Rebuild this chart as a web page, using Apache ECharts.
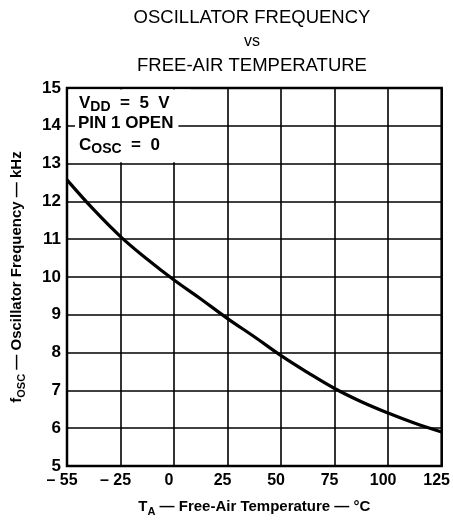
<!DOCTYPE html>
<html>
<head>
<meta charset="utf-8">
<script src="https://cdn.jsdelivr.net/npm/echarts@6/dist/echarts.min.js"></script>
<style>
  html, body { margin: 0; padding: 0; background: #fff; }
  #chart { width: 453px; height: 524px; }
</style>
</head>
<body>
<div id="chart"></div>
<script>
  // tick labels along the temperature axis (evenly spaced on the sheet)
  const tempTicks = [-55, -25, 0, 25, 50, 75, 100, 125];
  const freqMin = 5;
  const freqMax = 15;

  // curve
  const curveTemps = [-55, -40, -25, -12.5, 0, 12.5, 25, 37.5, 50, 62.5, 75, 87.5, 100, 112.5, 125];
  const curveFreqs = [12.57, 11.78, 11.07, 10.47, 9.92, 9.42, 8.9, 8.42, 7.92, 7.47, 7.05, 6.7, 6.4, 6.13, 5.9];

  const FONT = "'Liberation Sans', Arial, sans-serif";

  // the temperature scale is piecewise: each tick gets one grid cell
  function tempToPos(t) {
    for (let i = 0; i < tempTicks.length - 1; i++) {
      const a = tempTicks[i], b = tempTicks[i + 1];
      if (t <= b || i === tempTicks.length - 2) {
        return i + (t - a) / (b - a);
      }
    }
    return 0;
  }

  function tickLabel(v) {
    const t = tempTicks[Math.round(v)];
    if (t === undefined) return "";
    return t < 0 ? "\u2013 " + Math.abs(t) : String(t);
  }

  const curveData = curveTemps.map((t, i) => [tempToPos(t), curveFreqs[i]]);

  const chart = echarts.init(document.getElementById("chart"));

  const titleGraphics = [
    { type: "text", x: 252, y: 18, style: { text: "OSCILLATOR FREQUENCY", font: "18.5px " + FONT, fill: "#000", align: "center", verticalAlign: "middle" } },
    { type: "text", x: 252, y: 42, style: { text: "vs", font: "16px " + FONT, fill: "#000", align: "center", verticalAlign: "middle" } },
    { type: "text", x: 252, y: 66, style: { text: "FREE-AIR TEMPERATURE", font: "18.5px " + FONT, fill: "#000", align: "center", verticalAlign: "middle" } }
  ];

  const option = {
    backgroundColor: "#fff",
    animation: false,
    grid: {
      left: 59, right: 11, top: 88, bottom: 58,
      show: true, borderColor: "#000", borderWidth: 2.5, backgroundColor: "transparent"
    },
    xAxis: {
      type: "value",
      min: 0,
      max: tempTicks.length - 1,
      interval: 1,
      axisLine: { show: false },
      axisTick: { show: false },
      splitLine: { show: true, lineStyle: { color: "#000", width: 1.6 } },
      axisLabel: {
        formatter: tickLabel,
        color: "#000",
        fontFamily: FONT,
        fontWeight: "bold",
        fontSize: 16,
        margin: 7,
        padding: [0, 10, 0, 0]
      },
      name: "{n|T}{s|A}{n| \u2014 Free-Air Temperature \u2014 \u00b0C}",
      nameLocation: "middle",
      nameGap: 31,
      nameTextStyle: {
        rich: {
          n: { fontFamily: FONT, fontWeight: "bold", fontSize: 15, color: "#000", lineHeight: 20 },
          s: { fontFamily: FONT, fontWeight: "bold", fontSize: 11, color: "#000", lineHeight: 20, verticalAlign: "bottom", padding: [8, 0, 0, 0] }
        }
      }
    },
    yAxis: {
      type: "value",
      min: freqMin,
      max: freqMax,
      interval: 1,
      axisLine: { show: false },
      axisTick: { show: false },
      splitLine: { show: true, lineStyle: { color: "#000", width: 1.6 } },
      axisLabel: {
        color: "#000",
        fontFamily: FONT,
        fontWeight: "bold",
        fontSize: 17,
        margin: 6
      },
      name: "{n|f}{s|OSC}{n| \u2014 Oscillator Frequency \u2014 kHz}",
      nameLocation: "middle",
      nameGap: 40,
      nameTextStyle: {
        rich: {
          n: { fontFamily: FONT, fontWeight: "bold", fontSize: 15, color: "#000", lineHeight: 20 },
          s: { fontFamily: FONT, fontWeight: "bold", fontSize: 11, color: "#000", lineHeight: 20, verticalAlign: "bottom", padding: [8, 0, 0, 0] }
        }
      }
    },
    series: [{
      type: "line",
      z: 10,
      data: curveData,
      smooth: 0.4,
      symbol: "none",
      lineStyle: { color: "#000", width: 3.2 }
    }],
    graphic: titleGraphics
  };

  chart.setOption(option);

  // white panels behind the test conditions, placed from the axis scale;
  // the 14 kHz grid line is left showing between them
  const pTop = chart.convertToPixel({ gridIndex: 0 }, [0, freqMax]);
  const p14 = chart.convertToPixel({ gridIndex: 0 }, [2.3, 14]);
  const p13 = chart.convertToPixel({ gridIndex: 0 }, [2.3, 13]);
  const panelX = pTop[0] + 1.5;
  const panelW = p13[0] - panelX;
  const subRich = {
    n: { fontFamily: FONT, fontWeight: "bold", fontSize: 17, fill: "#000", lineHeight: 20 },
    s: { fontFamily: FONT, fontWeight: "bold", fontSize: 14, fill: "#000", lineHeight: 20, verticalAlign: "bottom", padding: [9, 0, 0, 0] }
  };
  const textX = pTop[0] + 12;
  const rowY = p14[1];
  chart.setOption({
    graphic: titleGraphics.concat([
      {
        type: "rect", z: 5,
        shape: { x: panelX, y: pTop[1] + 1.5, width: panelW, height: p14[1] - pTop[1] - 3 },
        style: { fill: "#fff" }
      },
      {
        type: "rect", z: 5,
        shape: { x: panelX, y: p14[1] + 1.2, width: panelW, height: p13[1] - p14[1] - 2.5 },
        style: { fill: "#fff" }
      },
      {
        type: "text", z: 20, x: textX, y: rowY - 22,
        style: { text: "{n|V}{s|DD}{n|  =  5  V}", rich: subRich, verticalAlign: "middle" }
      },
      {
        type: "text", z: 20, x: textX - 4, y: rowY - 2,
        style: { text: "PIN 1 OPEN", font: "bold 17px " + FONT, fill: "#000", backgroundColor: "#fff", padding: [2, 5, 2, 3], verticalAlign: "middle" }
      },
      {
        type: "text", z: 20, x: textX, y: rowY + 20,
        style: { text: "{n|C}{s|OSC}{n|  =  0}", rich: subRich, verticalAlign: "middle" }
      }
    ])
  }, { replaceMerge: ["graphic"] });
</script>
</body>
</html>
